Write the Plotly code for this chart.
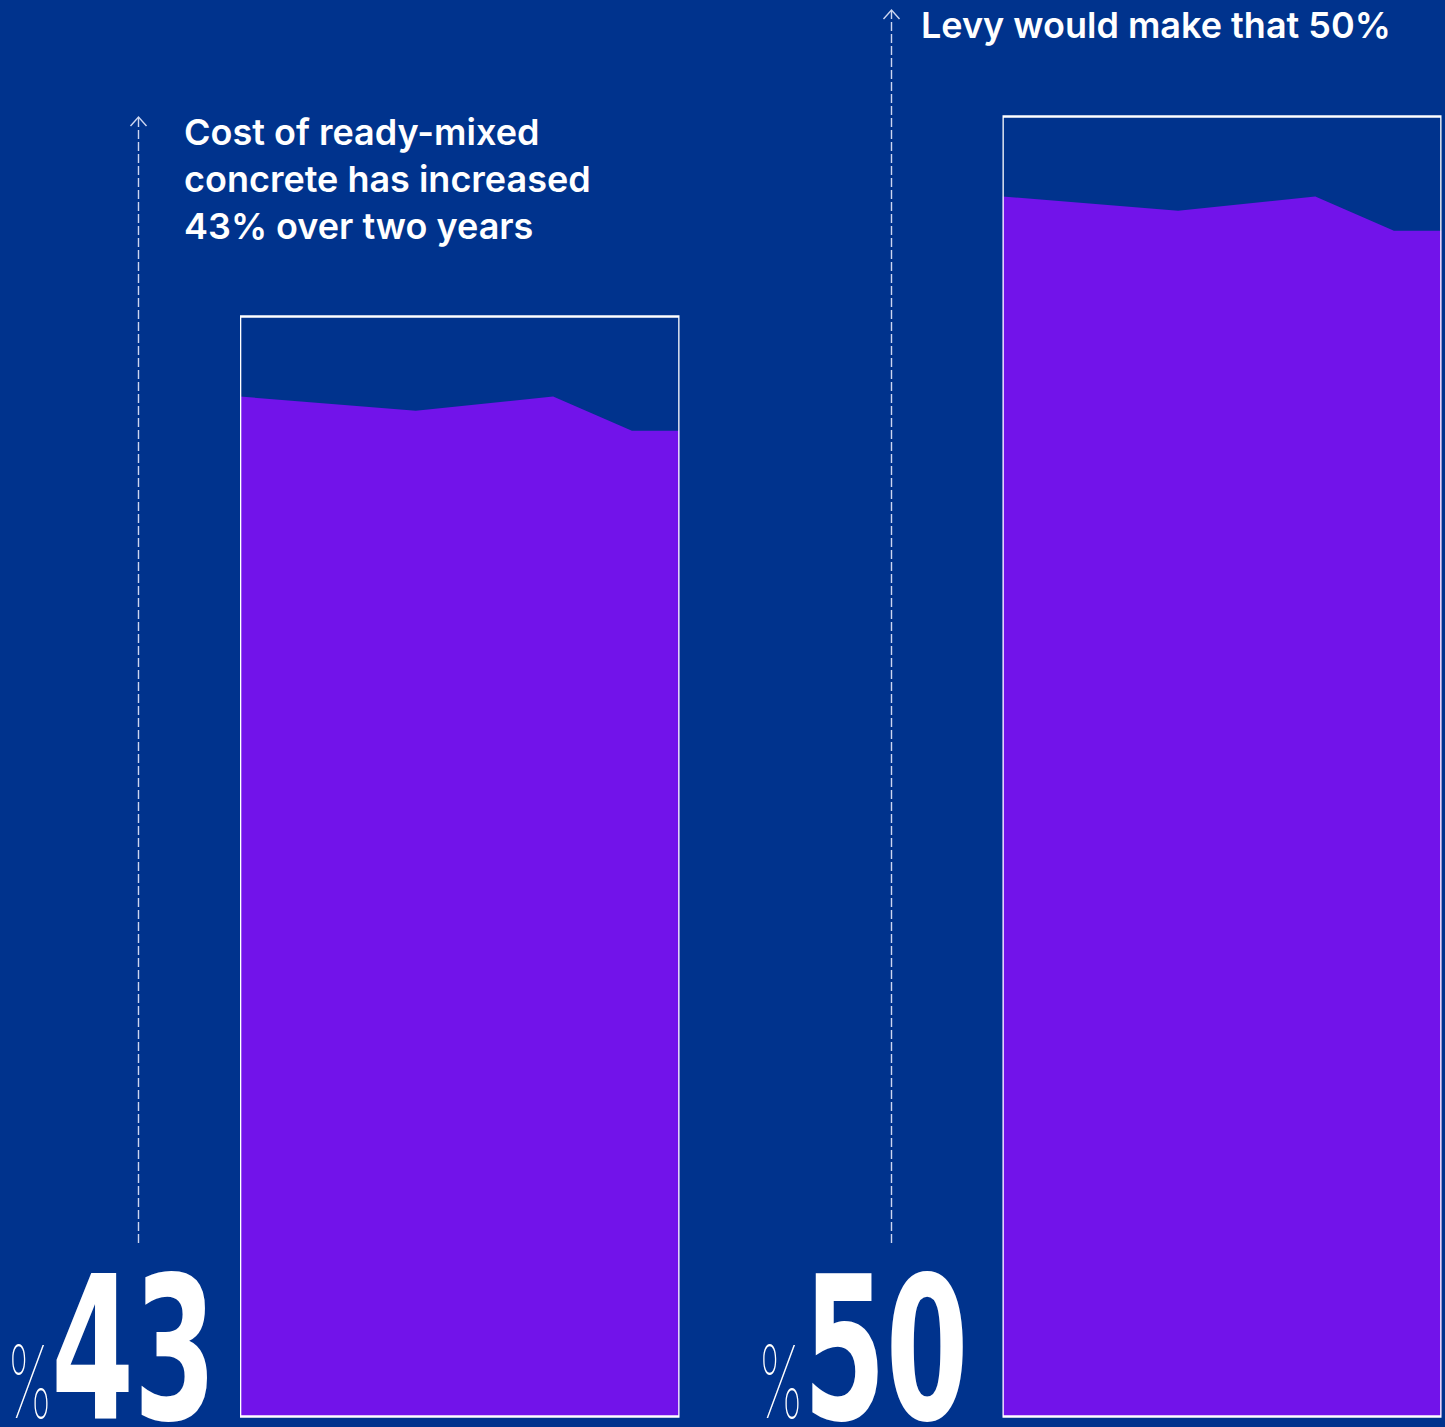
import plotly.graph_objects as go

# ---------------- data ----------------
months = [0, 9.6, 17.1, 21.4, 24]                 # two-year timeline (months)
current_cost = [40.2, 39.7, 40.2, 39.0, 39.0]     # purple area, left panel
levy_cost = [47.2, 46.7, 47.2, 46.0, 46.0]        # purple area, right panel
box_values = [43, 50]                             # % increase (box tops)
big_labels = ["43", "50"]
captions = ["Cost of ready-mixed<br>concrete has increased<br>43% over two years",
            "Levy would make that 50%"]
baseline = 4.5

# ---------------- style ----------------
W, H = 1445, 1427
BG = "#00338D"
PURPLE = "#7213EA"
LINE = "#cdd6f0"
TXT_FONT = "Inter, Liberation Sans, Arial, sans-serif"
BIG_FONT = "DejaVu Sans Condensed, DejaVu Sans, sans-serif"
PCT_FONT = "Inter, DejaVu Sans, sans-serif"

def px(x):
    return x / W

def py(y):
    return 1 - y / H

# y-axis range so that the boxes line up
k = (316.5 - 116.5) / (box_values[1] - box_values[0])
r1 = box_values[0] + 316.5 / k
r0 = r1 - H / k

fig = go.Figure()

panels = [("x", "y", current_cost, box_values[0]), ("x2", "y", levy_cost, box_values[1])]
for xa, ya, series, top in panels:
    fig.add_trace(go.Scatter(x=months, y=[baseline] * len(months), xaxis=xa, yaxis=ya,
                             mode="lines", line=dict(width=0), hoverinfo="skip", showlegend=False))
    fig.add_trace(go.Scatter(x=months, y=series, xaxis=xa, yaxis=ya, mode="lines",
                             line=dict(width=0, color=PURPLE), fill="tonexty",
                             fillcolor=PURPLE, hoverinfo="skip", showlegend=False))
    fig.add_shape(type="rect", xref=xa, yref=ya, x0=months[0], x1=months[-1],
                  y0=baseline, y1=top, line=dict(color="white", width=2.6), layer="above")

axis_common = dict(visible=False, showgrid=False, zeroline=False, fixedrange=True)
fig.update_layout(
    width=W, height=H, autosize=False,
    margin=dict(l=0, r=0, t=0, b=0, pad=0),
    paper_bgcolor=BG, plot_bgcolor=BG,
    xaxis=dict(domain=[px(240), px(679.5)], range=[months[0], months[-1]], **axis_common),
    xaxis2=dict(domain=[px(1002.5), px(1441.5)], range=[months[0], months[-1]], **axis_common),
    yaxis=dict(domain=[0, 1], range=[r0, r1], **axis_common),
    hovermode=False,
)

# dashed arrows
for xl, ytop in [(138.5, 117), (891.5, 10)]:
    fig.add_shape(type="line", xref="paper", yref="paper", x0=px(xl), x1=px(xl),
                  y0=py(1243), y1=py(ytop + 1), line=dict(color=LINE, width=1.4, dash="9px,3px"))
    fig.add_shape(type="path", xref="paper", yref="paper",
                  path=f"M {px(xl-8)},{py(ytop+9)} L {px(xl)},{py(ytop)} L {px(xl+8)},{py(ytop+9)}",
                  line=dict(color=LINE, width=1.4))

# captions
fig.add_annotation(text=captions[0], xref="paper", yref="paper", x=px(182), y=py(108),
                   xanchor="left", yanchor="top", align="left", showarrow=False,
                   font=dict(family=TXT_FONT, size=36, color="white", weight=600))
fig.add_annotation(text=captions[1], xref="paper", yref="paper", x=px(919), y=py(1),
                   xanchor="left", yanchor="top", align="left", showarrow=False,
                   font=dict(family=TXT_FONT, size=36, color="white", weight=600))

# big numbers (condensed horizontally in the page via CSS below)
for lab, xr, xp in [(big_labels[0], 218, 55), (big_labels[1], 970, 806)]:
    fig.add_annotation(text=lab, xref="paper", yref="paper", x=px(xr), y=py(1468),
                       xanchor="right", yanchor="bottom", showarrow=False,
                       font=dict(family=BIG_FONT, size=200, color="white", weight=700))
    fig.add_annotation(text="%", xref="paper", yref="paper", x=px(xp), y=py(1444),
                       xanchor="right", yanchor="bottom", showarrow=False,
                       font=dict(family=PCT_FONT, size=100, color="white", weight=100))

post = """
(function(){
  var gd = document.getElementById('{plot_id}');
  function squeeze(){
    document.querySelectorAll('text.annotation-text').forEach(function(t){
      var s = t.textContent;
      var f = null;
      if (s === '43' || s === '50') f = 0.66;
      if (s === '%') f = 0.54;
      if (f !== null){
        t.style.transformBox = 'fill-box';
        t.style.transformOrigin = 'right bottom';
        t.style.transform = 'scaleX(' + f + ')';
      }
    });
  }
  document.body.style.margin = '0';
  document.body.style.overflow = 'hidden';
  squeeze();
  setTimeout(squeeze, 0);
  setTimeout(squeeze, 200);
  if (gd && gd.on) gd.on('plotly_afterplot', squeeze);
})();
"""

fig.write_html("out.html", config={"displayModeBar": False}, post_script=post)
